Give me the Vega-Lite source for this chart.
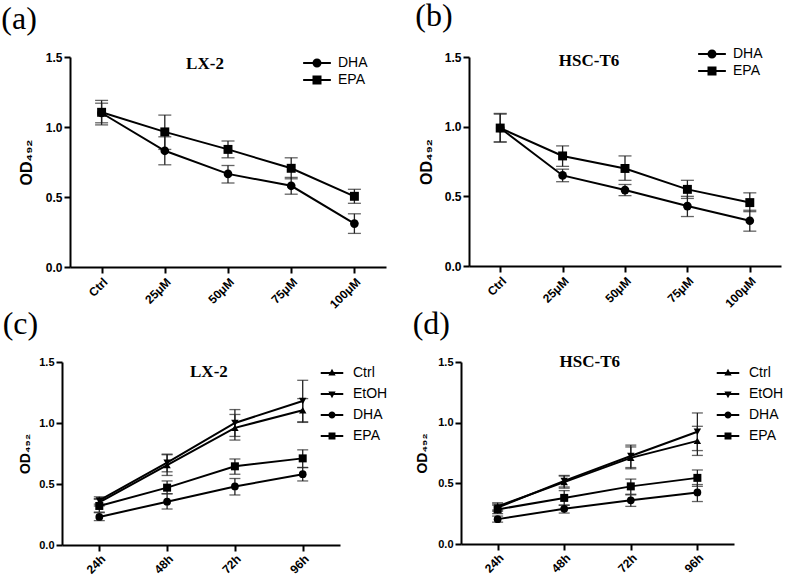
{
  "$schema": "https://vega.github.io/schema/vega-lite/v6.json",
  "padding": {"left": 0, "top": 0, "right": 0, "bottom": 0},
  "background": "white",
  "config": {
    "view": {"stroke": null},
    "axis": {"domainColor": "black", "domainWidth": 2, "tickColor": "black", "tickWidth": 2, "tickSize": 6, "labelFont": "Liberation Sans", "labelFontWeight": "bold", "labelFontSize": 12, "labelColor": "black", "grid": false, "titleFont": "Liberation Sans", "titleFontWeight": "bold", "titleFontSize": 15, "titleColor": "black"},
    "legend": {"labelFont": "Liberation Sans", "labelFontSize": 14, "labelColor": "black", "symbolFillColor": "black", "symbolStrokeColor": "black", "symbolStrokeWidth": 0, "symbolSize": 300, "labelOffset": 12, "rowPadding": 1, "orient": "none"},
    "title": {"font": "Liberation Serif", "fontSize": 32, "fontWeight": "normal", "color": "black", "anchor": "start", "frame": "bounds"}
  },
  "datasets": {
    "blank": [{"k": 1}],
    "a": [
      {"dose": "Ctrl", "series": "DHA", "mean": 1.10, "lo": 1.03, "hi": 1.17},
      {"dose": "25μM", "series": "DHA", "mean": 0.83, "lo": 0.73, "hi": 0.93},
      {"dose": "50μM", "series": "DHA", "mean": 0.665, "lo": 0.60, "hi": 0.725},
      {"dose": "75μM", "series": "DHA", "mean": 0.58, "lo": 0.52, "hi": 0.64},
      {"dose": "100μM", "series": "DHA", "mean": 0.31, "lo": 0.24, "hi": 0.38},
      {"dose": "Ctrl", "series": "EPA", "mean": 1.105, "lo": 1.015, "hi": 1.19},
      {"dose": "25μM", "series": "EPA", "mean": 0.965, "lo": 0.84, "hi": 1.085},
      {"dose": "50μM", "series": "EPA", "mean": 0.84, "lo": 0.78, "hi": 0.90},
      {"dose": "75μM", "series": "EPA", "mean": 0.705, "lo": 0.63, "hi": 0.78},
      {"dose": "100μM", "series": "EPA", "mean": 0.505, "lo": 0.455, "hi": 0.555}
    ],
    "b": [
      {"dose": "Ctrl", "series": "DHA", "mean": 0.99, "lo": 0.89, "hi": 1.09},
      {"dose": "25μM", "series": "DHA", "mean": 0.65, "lo": 0.605, "hi": 0.695},
      {"dose": "50μM", "series": "DHA", "mean": 0.545, "lo": 0.505, "hi": 0.585},
      {"dose": "75μM", "series": "DHA", "mean": 0.43, "lo": 0.355, "hi": 0.50},
      {"dose": "100μM", "series": "DHA", "mean": 0.325, "lo": 0.25, "hi": 0.40},
      {"dose": "Ctrl", "series": "EPA", "mean": 0.99, "lo": 0.89, "hi": 1.095},
      {"dose": "25μM", "series": "EPA", "mean": 0.79, "lo": 0.715, "hi": 0.862},
      {"dose": "50μM", "series": "EPA", "mean": 0.70, "lo": 0.615, "hi": 0.79},
      {"dose": "75μM", "series": "EPA", "mean": 0.55, "lo": 0.485, "hi": 0.615},
      {"dose": "100μM", "series": "EPA", "mean": 0.455, "lo": 0.39, "hi": 0.525}
    ],
    "c": [
      {"time": "24h", "series": "Ctrl", "mean": 0.35, "lo": 0.32, "hi": 0.38},
      {"time": "48h", "series": "Ctrl", "mean": 0.655, "lo": 0.57, "hi": 0.74},
      {"time": "72h", "series": "Ctrl", "mean": 0.96, "lo": 0.86, "hi": 1.07},
      {"time": "96h", "series": "Ctrl", "mean": 1.105, "lo": 1.005, "hi": 1.20},
      {"time": "24h", "series": "EtOH", "mean": 0.365, "lo": 0.335, "hi": 0.395},
      {"time": "48h", "series": "EtOH", "mean": 0.675, "lo": 0.60, "hi": 0.745},
      {"time": "72h", "series": "EtOH", "mean": 1.0, "lo": 0.89, "hi": 1.11},
      {"time": "96h", "series": "EtOH", "mean": 1.18, "lo": 1.01, "hi": 1.35},
      {"time": "24h", "series": "DHA", "mean": 0.23, "lo": 0.20, "hi": 0.265},
      {"time": "48h", "series": "DHA", "mean": 0.355, "lo": 0.295, "hi": 0.42},
      {"time": "72h", "series": "DHA", "mean": 0.48, "lo": 0.41, "hi": 0.545},
      {"time": "96h", "series": "DHA", "mean": 0.58, "lo": 0.525, "hi": 0.635},
      {"time": "24h", "series": "EPA", "mean": 0.32, "lo": 0.27, "hi": 0.375},
      {"time": "48h", "series": "EPA", "mean": 0.47, "lo": 0.42, "hi": 0.525},
      {"time": "72h", "series": "EPA", "mean": 0.645, "lo": 0.58, "hi": 0.705},
      {"time": "96h", "series": "EPA", "mean": 0.71, "lo": 0.635, "hi": 0.78}
    ],
    "d": [
      {"time": "24h", "series": "Ctrl", "mean": 0.31, "lo": 0.28, "hi": 0.34},
      {"time": "48h", "series": "Ctrl", "mean": 0.51, "lo": 0.46, "hi": 0.56},
      {"time": "72h", "series": "Ctrl", "mean": 0.71, "lo": 0.62, "hi": 0.80},
      {"time": "96h", "series": "Ctrl", "mean": 0.85, "lo": 0.73, "hi": 0.97},
      {"time": "24h", "series": "EtOH", "mean": 0.30, "lo": 0.27, "hi": 0.33},
      {"time": "48h", "series": "EtOH", "mean": 0.52, "lo": 0.47, "hi": 0.565},
      {"time": "72h", "series": "EtOH", "mean": 0.725, "lo": 0.63, "hi": 0.815},
      {"time": "96h", "series": "EtOH", "mean": 0.925, "lo": 0.77, "hi": 1.08},
      {"time": "24h", "series": "DHA", "mean": 0.205, "lo": 0.18, "hi": 0.23},
      {"time": "48h", "series": "DHA", "mean": 0.29, "lo": 0.255, "hi": 0.32},
      {"time": "72h", "series": "DHA", "mean": 0.36, "lo": 0.31, "hi": 0.405},
      {"time": "96h", "series": "DHA", "mean": 0.425, "lo": 0.35, "hi": 0.49},
      {"time": "24h", "series": "EPA", "mean": 0.285, "lo": 0.25, "hi": 0.32},
      {"time": "48h", "series": "EPA", "mean": 0.38, "lo": 0.32, "hi": 0.44},
      {"time": "72h", "series": "EPA", "mean": 0.475, "lo": 0.41, "hi": 0.535},
      {"time": "96h", "series": "EPA", "mean": 0.545, "lo": 0.475, "hi": 0.61}
    ]
  },
  "spacing": -3,
  "resolve": {"scale": {"shape": "independent"}, "legend": {"shape": "independent"}},
  "vconcat": [
    {
      "spacing": 0,
      "resolve": {"scale": {"shape": "independent"}, "legend": {"shape": "independent"}},
      "hconcat": [
        {"width": 1, "height": 1, "data": {"name": "blank"}, "mark": {"type": "rect", "color": "white"}, "encoding": {"x": {"datum": 0, "type": "quantitative", "scale": {"domain": [0, 1]}, "axis": null}, "x2": {"datum": 1}}},
        {
          "width": 316, "height": 210,
          "title": {"text": "(a)", "dx": -17, "offset": 15},
          "data": {"name": "a"},
          "encoding": {
            "x": {"field": "dose", "type": "ordinal", "sort": ["Ctrl", "25μM", "50μM", "75μM", "100μM"], "scale": {"type": "point", "padding": 0.5}, "axis": {"title": null, "labelAngle": -45, "labelPadding": 3}}
          },
          "layer": [
            {"mark": {"type": "rule", "strokeWidth": 1.3, "color": "#222"}, "encoding": {"y": {"field": "lo", "type": "quantitative", "scale": {"domain": [0, 1.5], "nice": false}, "axis": {"values": [0, 0.5, 1, 1.5], "format": ".1f", "title": "OD₄₉₂", "titlePadding": 11, "titleFontSize": 16}}, "y2": {"field": "hi"}}},
            {"mark": {"type": "tick", "thickness": 1.3, "size": 13, "color": "#222"}, "encoding": {"y": {"field": "lo", "type": "quantitative"}}},
            {"mark": {"type": "tick", "thickness": 1.3, "size": 13, "color": "#222"}, "encoding": {"y": {"field": "hi", "type": "quantitative"}}},
            {"mark": {"type": "line", "strokeWidth": 2, "color": "black"}, "encoding": {"y": {"field": "mean", "type": "quantitative"}, "detail": {"field": "series"}}},
            {"transform": [{"filter": "datum.series === 'DHA'"}], "mark": {"type": "point", "shape": "circle", "filled": true, "color": "black", "size": 75, "opacity": 1}, "encoding": {"y": {"field": "mean", "type": "quantitative"}}},
            {"transform": [{"filter": "datum.series === 'EPA'"}], "mark": {"type": "point", "shape": "square", "filled": true, "color": "black", "size": 80, "opacity": 1}, "encoding": {"y": {"field": "mean", "type": "quantitative"}}},
            {"transform": [{"filter": "false"}], "mark": {"type": "point", "filled": true, "color": "black", "opacity": 1}, "encoding": {"shape": {"field": "series", "scale": {"domain": ["DHA", "EPA"], "range": ["M-1.6,-0.11H1.6V0.11H-1.6ZM-0.52,0A0.52,0.52 0 1,1 0.52,0A0.52,0.52 0 1,1 -0.52,0Z", "M-1.6,-0.11H1.6V0.11H-1.6ZM-0.52,-0.52H0.52V0.52H-0.52Z"]}, "legend": {"title": null, "orient": "none", "legendX": 238, "legendY": -3}}}},
            {"data": {"values": [{"label": "LX-2"}]}, "mark": {"type": "text", "font": "Liberation Serif", "fontWeight": "bold", "fontSize": 17, "color": "black", "dx": -23}, "encoding": {"x": {"datum": "50μM"}, "y": {"datum": 1.45}, "text": {"field": "label"}}}
          ]
        },
        {"width": 29, "height": 1, "data": {"name": "blank"}, "mark": {"type": "rect", "color": "white"}, "encoding": {"x": {"datum": 0, "type": "quantitative", "scale": {"domain": [0, 1]}, "axis": null}, "x2": {"datum": 1}}},
        {
          "width": 312, "height": 209,
          "title": {"text": "(b)", "dx": -3, "offset": 12},
          "data": {"name": "b"},
          "encoding": {
            "x": {"field": "dose", "type": "ordinal", "sort": ["Ctrl", "25μM", "50μM", "75μM", "100μM"], "scale": {"type": "point", "padding": 0.5}, "axis": {"title": null, "labelAngle": -45, "labelPadding": 3}}
          },
          "layer": [
            {"mark": {"type": "rule", "strokeWidth": 1.3, "color": "#222"}, "encoding": {"y": {"field": "lo", "type": "quantitative", "scale": {"domain": [0, 1.5], "nice": false}, "axis": {"values": [0, 0.5, 1, 1.5], "format": ".1f", "title": "OD₄₉₂", "titlePadding": 10, "titleFontSize": 16}}, "y2": {"field": "hi"}}},
            {"mark": {"type": "tick", "thickness": 1.3, "size": 13, "color": "#222"}, "encoding": {"y": {"field": "lo", "type": "quantitative"}}},
            {"mark": {"type": "tick", "thickness": 1.3, "size": 13, "color": "#222"}, "encoding": {"y": {"field": "hi", "type": "quantitative"}}},
            {"mark": {"type": "line", "strokeWidth": 2, "color": "black"}, "encoding": {"y": {"field": "mean", "type": "quantitative"}, "detail": {"field": "series"}}},
            {"transform": [{"filter": "datum.series === 'DHA'"}], "mark": {"type": "point", "shape": "circle", "filled": true, "color": "black", "size": 75, "opacity": 1}, "encoding": {"y": {"field": "mean", "type": "quantitative"}}},
            {"transform": [{"filter": "datum.series === 'EPA'"}], "mark": {"type": "point", "shape": "square", "filled": true, "color": "black", "size": 80, "opacity": 1}, "encoding": {"y": {"field": "mean", "type": "quantitative"}}},
            {"transform": [{"filter": "false"}], "mark": {"type": "point", "filled": true, "color": "black", "opacity": 1}, "encoding": {"shape": {"field": "series", "scale": {"domain": ["DHA", "EPA"], "range": ["M-1.6,-0.11H1.6V0.11H-1.6ZM-0.52,0A0.52,0.52 0 1,1 0.52,0A0.52,0.52 0 1,1 -0.52,0Z", "M-1.6,-0.11H1.6V0.11H-1.6ZM-0.52,-0.52H0.52V0.52H-0.52Z"]}, "legend": {"title": null, "orient": "none", "legendX": 234, "legendY": -12}}}},
            {"data": {"values": [{"label": "HSC-T6"}]}, "mark": {"type": "text", "font": "Liberation Serif", "fontWeight": "bold", "fontSize": 17, "color": "black", "dx": -36}, "encoding": {"x": {"datum": "50μM"}, "y": {"datum": 1.47}, "text": {"field": "label"}}}
          ]
        }
      ]
    },
    {
      "spacing": 0,
      "resolve": {"scale": {"shape": "independent"}, "legend": {"shape": "independent"}},
      "hconcat": [
        {"width": 2, "height": 1, "data": {"name": "blank"}, "mark": {"type": "rect", "color": "white"}, "encoding": {"x": {"datum": 0, "type": "quantitative", "scale": {"domain": [0, 1]}, "axis": null}, "x2": {"datum": 1}}},
        {
          "width": 278, "height": 183,
          "title": {"text": "(c)", "dx": -16, "offset": 15},
          "data": {"name": "c"},
          "encoding": {
            "x": {"field": "time", "type": "ordinal", "sort": ["24h", "48h", "72h", "96h"], "scale": {"type": "point", "padding": 0.55}, "axis": {"title": null, "labelAngle": -45, "labelPadding": 2}}
          },
          "layer": [
            {"mark": {"type": "rule", "strokeWidth": 1.3, "color": "#222"}, "encoding": {"y": {"field": "lo", "type": "quantitative", "scale": {"domain": [0, 1.5], "nice": false}, "axis": {"values": [0, 0.5, 1, 1.5], "format": ".1f", "title": "OD₄₉₂", "titlePadding": 6, "titleFontSize": 14, "labelFontSize": 11}}, "y2": {"field": "hi"}}},
            {"mark": {"type": "tick", "thickness": 1.3, "size": 11, "color": "#222"}, "encoding": {"y": {"field": "lo", "type": "quantitative"}}},
            {"mark": {"type": "tick", "thickness": 1.3, "size": 11, "color": "#222"}, "encoding": {"y": {"field": "hi", "type": "quantitative"}}},
            {"mark": {"type": "line", "strokeWidth": 2, "color": "black"}, "encoding": {"y": {"field": "mean", "type": "quantitative"}, "detail": {"field": "series"}}},
            {"transform": [{"filter": "datum.series === 'Ctrl'"}], "mark": {"type": "point", "shape": "triangle-up", "filled": true, "color": "black", "size": 55, "opacity": 1}, "encoding": {"y": {"field": "mean", "type": "quantitative"}}},
            {"transform": [{"filter": "datum.series === 'EtOH'"}], "mark": {"type": "point", "shape": "triangle-down", "filled": true, "color": "black", "size": 55, "opacity": 1}, "encoding": {"y": {"field": "mean", "type": "quantitative"}}},
            {"transform": [{"filter": "datum.series === 'DHA'"}], "mark": {"type": "point", "shape": "circle", "filled": true, "color": "black", "size": 60, "opacity": 1}, "encoding": {"y": {"field": "mean", "type": "quantitative"}}},
            {"transform": [{"filter": "datum.series === 'EPA'"}], "mark": {"type": "point", "shape": "square", "filled": true, "color": "black", "size": 64, "opacity": 1}, "encoding": {"y": {"field": "mean", "type": "quantitative"}}},
            {"transform": [{"filter": "false"}], "mark": {"type": "point", "filled": true, "color": "black", "opacity": 1}, "encoding": {"shape": {"field": "series", "scale": {"domain": ["Ctrl", "EtOH", "DHA", "EPA"], "range": ["M-1.3,-0.12H1.3V0.12H-1.3ZM0,-0.5L0.42,0.3H-0.42Z", "M-1.3,-0.12H1.3V0.12H-1.3ZM0,0.5L-0.42,-0.3H0.42Z", "M-1.3,-0.12H1.3V0.12H-1.3ZM-0.4,0A0.4,0.4 0 1,1 0.4,0A0.4,0.4 0 1,1 -0.4,0Z", "M-1.3,-0.12H1.3V0.12H-1.3ZM-0.4,-0.4H0.4V0.4H-0.4Z"]}, "legend": {"title": null, "orient": "none", "legendX": 261, "legendY": 2, "rowPadding": 5}}}},
            {"data": {"values": [{"label": "LX-2"}]}, "mark": {"type": "text", "font": "Liberation Serif", "fontWeight": "bold", "fontSize": 17, "color": "black", "dx": -26}, "encoding": {"x": {"datum": "72h"}, "y": {"datum": 1.418}, "text": {"field": "label"}}}
          ]
        },
        {"width": 24, "height": 1, "data": {"name": "blank"}, "mark": {"type": "rect", "color": "white"}, "encoding": {"x": {"datum": 0, "type": "quantitative", "scale": {"domain": [0, 1]}, "axis": null}, "x2": {"datum": 1}}},
        {
          "width": 273, "height": 182,
          "title": {"text": "(d)", "dx": -3, "offset": 12},
          "data": {"name": "d"},
          "encoding": {
            "x": {"field": "time", "type": "ordinal", "sort": ["24h", "48h", "72h", "96h"], "scale": {"type": "point", "padding": 0.55}, "axis": {"title": null, "labelAngle": -45, "labelPadding": 2}}
          },
          "layer": [
            {"mark": {"type": "rule", "strokeWidth": 1.3, "color": "#222"}, "encoding": {"y": {"field": "lo", "type": "quantitative", "scale": {"domain": [0, 1.5], "nice": false}, "axis": {"values": [0, 0.5, 1, 1.5], "format": ".1f", "title": "OD₄₉₂", "titlePadding": 8, "titleFontSize": 14, "labelFontSize": 11}}, "y2": {"field": "hi"}}},
            {"mark": {"type": "tick", "thickness": 1.3, "size": 11, "color": "#222"}, "encoding": {"y": {"field": "lo", "type": "quantitative"}}},
            {"mark": {"type": "tick", "thickness": 1.3, "size": 11, "color": "#222"}, "encoding": {"y": {"field": "hi", "type": "quantitative"}}},
            {"mark": {"type": "line", "strokeWidth": 2, "color": "black"}, "encoding": {"y": {"field": "mean", "type": "quantitative"}, "detail": {"field": "series"}}},
            {"transform": [{"filter": "datum.series === 'Ctrl'"}], "mark": {"type": "point", "shape": "triangle-up", "filled": true, "color": "black", "size": 55, "opacity": 1}, "encoding": {"y": {"field": "mean", "type": "quantitative"}}},
            {"transform": [{"filter": "datum.series === 'EtOH'"}], "mark": {"type": "point", "shape": "triangle-down", "filled": true, "color": "black", "size": 55, "opacity": 1}, "encoding": {"y": {"field": "mean", "type": "quantitative"}}},
            {"transform": [{"filter": "datum.series === 'DHA'"}], "mark": {"type": "point", "shape": "circle", "filled": true, "color": "black", "size": 60, "opacity": 1}, "encoding": {"y": {"field": "mean", "type": "quantitative"}}},
            {"transform": [{"filter": "datum.series === 'EPA'"}], "mark": {"type": "point", "shape": "square", "filled": true, "color": "black", "size": 64, "opacity": 1}, "encoding": {"y": {"field": "mean", "type": "quantitative"}}},
            {"transform": [{"filter": "false"}], "mark": {"type": "point", "filled": true, "color": "black", "opacity": 1}, "encoding": {"shape": {"field": "series", "scale": {"domain": ["Ctrl", "EtOH", "DHA", "EPA"], "range": ["M-1.3,-0.12H1.3V0.12H-1.3ZM0,-0.5L0.42,0.3H-0.42Z", "M-1.3,-0.12H1.3V0.12H-1.3ZM0,0.5L-0.42,-0.3H0.42Z", "M-1.3,-0.12H1.3V0.12H-1.3ZM-0.4,0A0.4,0.4 0 1,1 0.4,0A0.4,0.4 0 1,1 -0.4,0Z", "M-1.3,-0.12H1.3V0.12H-1.3ZM-0.4,-0.4H0.4V0.4H-0.4Z"]}, "legend": {"title": null, "orient": "none", "legendX": 258, "legendY": 2, "rowPadding": 5}}}},
            {"data": {"values": [{"label": "HSC-T6"}]}, "mark": {"type": "text", "font": "Liberation Serif", "fontWeight": "bold", "fontSize": 17, "color": "black", "dx": -41}, "encoding": {"x": {"datum": "72h"}, "y": {"datum": 1.5}, "text": {"field": "label"}}}
          ]
        }
      ]
    }
  ]
}
